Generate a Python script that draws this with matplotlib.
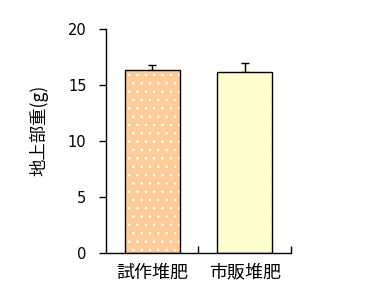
import numpy as np
import matplotlib.pyplot as plt

plt.rcParams['font.family'] = ['Noto Sans CJK JP', 'DejaVu Sans']
plt.rcParams['hatch.linewidth'] = 0.6

labels = ['試作堆肥', '市販堆肥']
values = [16.35, 16.15]
errors = [0.45, 0.8]
colors = ['#FFCC99', '#FFFFCC']

fig = plt.figure(figsize=(3.85, 2.94), dpi=100)
ax = fig.add_axes([106/385, 1-253.3/294, 185/385, 224/294])

x = np.arange(len(labels)) + 0.5
# fill with white dot pattern, then black outline on top
ax.bar(x, values, width=0.59, color=colors, edgecolor='white',
       linewidth=0, hatch='..', zorder=2)
ax.bar(x, values, width=0.59, fill=False, edgecolor='black',
       linewidth=1.0, zorder=3)
ax.errorbar(x, values, yerr=[np.zeros(len(errors)), errors], fmt='none',
            ecolor='black', elinewidth=1.0, capsize=2.8, capthick=1.0, zorder=1)

ax.set_xlim(0, 2)
ax.set_ylim(0, 20)
ax.set_yticks([0, 5, 10, 15, 20])
ax.set_xticks([1, 2])
ax.set_xticklabels([])
ax.tick_params(axis='x', direction='in', length=5, width=1)
ax.tick_params(axis='y', direction='out', length=5, width=1, labelsize=10.5, pad=9)
for t in ax.get_yticklabels():
    t.set_family('DejaVu Sans')
for i, lab in enumerate(labels):
    ax.text(x[i], -0.9, lab, ha='center', va='top', fontsize=13)
ax.spines['top'].set_visible(False)
ax.spines['right'].set_visible(False)
ax.spines['left'].set_linewidth(1)
ax.spines['bottom'].set_linewidth(1)
ax.set_ylabel('地上部重(g)', fontsize=12.5)
ax.yaxis.set_label_coords(-0.31, 0.55)

fig.savefig('out.png', dpi=100)
